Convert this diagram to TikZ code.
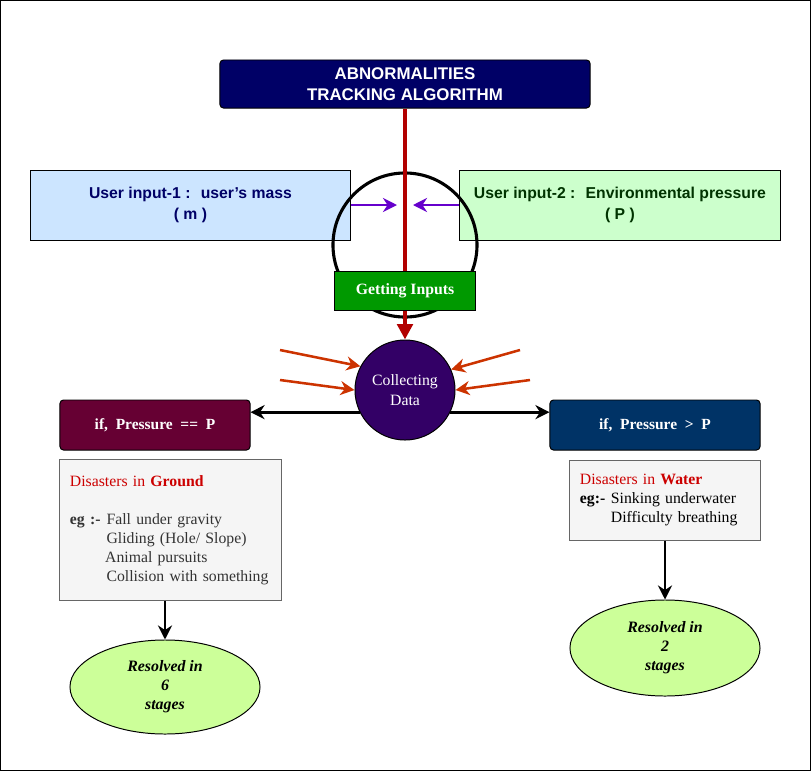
\documentclass[tikz,border=0pt]{standalone}
\usepackage{fontspec}
\setmainfont{Liberation Serif}
\setsansfont{Liberation Sans}
\usepackage{xcolor}
\usepackage{tikz}
\usetikzlibrary{arrows.meta, positioning, shapes.geometric}
\definecolor{titlenavy}{HTML}{000066}
\definecolor{flowred}{HTML}{B20000}
\definecolor{inblue}{HTML}{CCE5FF}
\definecolor{ingreen}{HTML}{CCFFCC}
\definecolor{intext}{HTML}{003300}
\definecolor{arrowpurple}{HTML}{6600CC}
\definecolor{getgreen}{HTML}{009900}
\definecolor{collectpurple}{HTML}{330066}
\definecolor{feedorange}{HTML}{CC3300}
\definecolor{groundred}{HTML}{660033}
\definecolor{waterblue}{HTML}{003366}
\definecolor{notefill}{HTML}{F5F5F5}
\definecolor{noteline}{HTML}{666666}
\definecolor{notetext}{HTML}{333333}
\definecolor{alertred}{HTML}{CC0000}
\definecolor{resolvedlime}{HTML}{CCFF99}

\begin{document}
\begin{tikzpicture}[x=0.025cm, y=-0.025cm, line width=0.7pt,
  inbox/.style={draw, rectangle, align=center, minimum width=8cm, minimum height=1.75cm,
    font=\sffamily\bfseries\fontsize{11.2}{15}\selectfont},
  ifbox/.style={draw, rounded corners=2.5pt, text=white, minimum height=1.25cm,
    font=\bfseries\fontsize{11}{12}\selectfont},
  note/.style={draw=noteline, fill=notefill, text=notetext, align=left, inner xsep=0.25cm,
    font=\fontsize{11.2}{13.5}\selectfont},
  resolved/.style={draw, ellipse, fill=resolvedlime, align=center, inner sep=0pt,
    minimum width=4.75cm, font=\bfseries\itshape\fontsize{11.3}{13.5}\selectfont},
  feed/.style={-{Stealth[length=10pt, width=10pt]}, line width=1.8pt, feedorange},
  mass/.style={-{Stealth[length=10pt, width=10pt]}, line width=1.8pt, arrowpurple},
  branch/.style={-{Stealth[length=10pt, width=10pt]}, line width=2pt}]

\useasboundingbox (0,0) rectangle (811,771);
\draw (0.5,0.5) rectangle (810.5,770.5);

\node[fill=titlenavy, draw, rounded corners=2.5pt, text=white, align=center,
  minimum width=9.25cm, minimum height=1.2cm,
  font=\sffamily\bfseries\fontsize{12}{15}\selectfont] (title) at (405,84)
  {ABNORMALITIES\\TRACKING ALGORITHM};

\node[inbox, fill=inblue, text=titlenavy, minimum width=7.975cm] (input1) at (190.5,205)
  {User input-1 :~ user's mass\\( m )};
\node[inbox, fill=ingreen, text=intext] (input2) at (620,205)
  {User input-2 :~ Environmental pressure\\( P )};

\node[draw, circle, line width=2.2pt, minimum size=3.6cm] (ring) at (405,245) {};
\node[draw, circle, fill=collectpurple, text=white, align=center, minimum size=2.5cm,
  font=\fontsize{11.2}{14}\selectfont] (collect) at (405,390) {Collecting\\Data};

\draw[flowred, line width=3.5pt, -{Triangle[length=11pt, width=11pt]}] (title.south) -- (collect.north);
\node[draw, fill=getgreen, text=white, minimum width=3.5cm, minimum height=0.975cm,
  font=\bfseries\fontsize{11.2}{12}\selectfont] (getin) at (405,290.5) {Getting Inputs};

\coordinate (massend) at (397,205);
\coordinate (pressend) at (413,205);
\draw[mass] (input1.east) -- (massend);
\draw[mass] (input2.west) -- (pressend);

\coordinate (feed1) at (280,350);
\coordinate (feed2) at (280,380);
\coordinate (feed3) at (520,350);
\coordinate (feed4) at (530,380);
\draw[feed] (feed1) -- (collect.152);
\draw[feed] (feed2) -- (collect.west);
\draw[feed] (feed3) -- (collect.24);
\draw[feed] (feed4) -- (collect.east);

\node[ifbox, fill=groundred, minimum width=4.75cm] (ifequal) at (155,425) {if,~ Pressure ~==~ P};
\node[ifbox, fill=waterblue, minimum width=5.25cm] (ifgreater) at (655,425) {if,~ Pressure ~>~ P};
\draw[branch] (collect.206) -- (collect.206 -| ifequal.east);
\draw[branch] (collect.-26) -- (collect.-26 -| ifgreater.west);

\node[note, text width=5.025cm, minimum height=3.5cm] (ground) at (170.5,530)
  {\textcolor{alertred}{Disasters in \textbf{Ground}}\\[13.5pt]
   \makebox[26pt][l]{\textbf{eg :-}}Fall under gravity\\
   \hspace*{26pt}Gliding (Hole/ Slope)\\
   \hspace*{25pt}Animal pursuits\\
   \hspace*{26pt}Collision with something};
\node[note, text=black, text width=4.25cm, minimum height=2cm] (water) at (665,500)
  {\textcolor{alertred}{Disasters in \textbf{Water}}\\
   \makebox[22pt][l]{\textbf{eg:-}}Sinking underwater\\
   \hspace*{22pt}Difficulty breathing};

\node[resolved, minimum height=2.35cm] (stages6) at (165,687) {Resolved in\\6\\stages};
\node[resolved, minimum height=2.4cm] (stages2) at (665,648) {Resolved in\\2\\stages};

\draw[branch] (ground.south -| stages6.north) -- (stages6.north);
\draw[branch] (water.south) -- (stages2.north);
\end{tikzpicture}
\end{document}
